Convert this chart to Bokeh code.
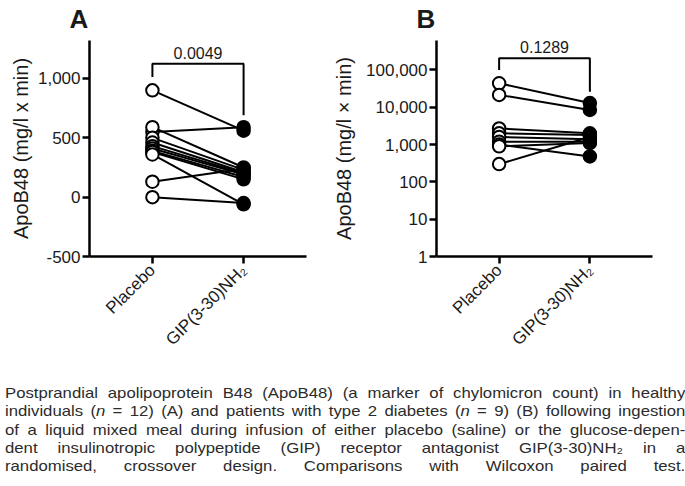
import math
from bokeh.plotting import figure
from bokeh.models import Range1d, FixedTicker, NumeralTickFormatter, Label, Div, ColumnDataSource
from bokeh.layouts import row, column
from bokeh.embed import file_html
from bokeh.resources import INLINE

# ---------------- data ----------------
categories = ["Placebo", "GIP(3-30)NH\u2082"]
healthy_placebo = [900, 550, 590, 500, 460, 430, 410, 390, 380, 360, 130, 0]
healthy_gip = [560, 590, 250, 230, 210, 200, 190, 170, 150, -60, 240, -50]
t2d_placebo = [44000, 21500, 2700, 2000, 1600, 1200, 1000, 900, 300]
t2d_gip = [13000, 8500, 2000, 1800, 1400, 1200, 480, 1100, 1600]
ticks_A = [-500, 0, 500, 1000]
ticks_B = [1, 10, 100, 1000, 10000, 100000]
p_value_A = "0.0049"
p_value_B = "0.1289"
bracket_A = [1012, 1124, 691]      # left end, top, right end
bracket_B = [100000, 206000, 26000]

FONT = "Liberation Sans"
INK = "#1a1a1a"
H = 374
TOP = 46
FRAME_H = 216


def panel(letter, placebo, gip, yrange, ticks, ylabel, pval, bracket, width,
          border_left, border_right, label_standoff, y_type="linear"):
    p = figure(width=width, height=H, output_backend="svg", toolbar_location=None,
               x_range=Range1d(-0.69, 1.69), y_range=yrange, y_axis_type=y_type,
               min_border_left=border_left, min_border_right=border_right,
               min_border_top=TOP, min_border_bottom=H - TOP - FRAME_H)
    p.outline_line_color = None
    p.grid.visible = False

    x0 = [categories.index(categories[0])] * len(placebo)
    x1 = [categories.index(categories[1])] * len(gip)
    src = ColumnDataSource(dict(x0=x0, x1=x1, y0=placebo, y1=gip))
    p.segment("x0", "y0", "x1", "y1", source=src, line_color="black", line_width=2)
    p.scatter("x0", "y0", source=src, size=12.5, fill_color="white", line_color="black", line_width=2)
    p.scatter("x1", "y1", source=src, size=12.5, fill_color="black", line_color="black", line_width=2)

    # significance bracket
    p.line([0, 0, 1, 1], [bracket[0], bracket[1], bracket[1], bracket[2]],
           line_color="black", line_width=2)
    p.add_layout(Label(x=0.5, y=bracket[1], text=pval, text_align="center", text_baseline="bottom",
                       y_offset=5, text_font=FONT, text_font_size="16px", text_color=INK))

    # axes
    for ax in (p.xaxis[0], p.yaxis[0]):
        ax.axis_line_width = 2.5
        ax.axis_line_color = "black"
        ax.major_tick_line_width = 2.5
        ax.major_tick_line_color = "black"
        ax.major_tick_in = 0
        ax.major_tick_out = 7
        ax.minor_tick_line_color = None
        ax.major_label_text_font = FONT
        ax.major_label_text_color = INK
    p.yaxis.ticker = FixedTicker(ticks=ticks)
    p.yaxis.formatter = NumeralTickFormatter(format="0,0")
    p.yaxis.major_label_text_font_size = "17px"
    p.yaxis.major_label_standoff = 2
    p.yaxis.axis_label = ylabel
    p.yaxis.axis_label_text_font = FONT
    p.yaxis.axis_label_text_font_size = "20px"
    p.yaxis.axis_label_text_font_style = "normal"
    p.yaxis.axis_label_text_color = INK
    p.yaxis.axis_label_standoff = label_standoff

    p.xaxis.ticker = FixedTicker(ticks=[0, 1])
    p.xaxis.major_label_overrides = {i: c for i, c in enumerate(categories)}
    p.xaxis.major_label_orientation = math.pi / 4
    p.xaxis.major_label_text_font_size = "17px"
    p.xaxis.major_label_standoff = 4

    # panel letter as the title
    p.title.text = letter
    p.title.text_font = FONT
    p.title.text_font_size = "26px"
    p.title.text_font_style = "bold"
    p.title.text_color = INK
    p.title.align = "left"
    p.title.offset = -20
    p.title.standoff = 14
    return p


pA = panel("A", healthy_placebo, healthy_gip, Range1d(-500, 1320), ticks_A,
           "ApoB48 (mg/l x min)", p_value_A, bracket_A, 330, 89, 24, 3)
pB = panel("B", t2d_placebo, t2d_gip, Range1d(1, 10 ** 5.79), ticks_B,
           "ApoB48 (mg/l \u00d7 min)", p_value_B, bracket_B, 347, 106, 25, 8, y_type="log")

caption_lines = [
    "Postprandial apolipoprotein B48 (ApoB48) (a marker of chylomicron count) in healthy",
    "individuals (<i>n</i> = 12) (A) and patients with type 2 diabetes (<i>n</i> = 9) (B) following ingestion",
    "of a liquid mixed meal during infusion of either placebo (saline) or the glucose-depen-",
    "dent insulinotropic polypeptide (GIP) receptor antagonist GIP(3-30)NH\u2082 in a",
    "randomised, crossover design. Comparisons with Wilcoxon paired test.",
]
line_style = "text-align:justify;text-align-last:justify;line-height:18.35px;"
html = ("<div style=\"font-family:'Liberation Sans',Arial,sans-serif;font-size:14.8px;color:#2b2b2b;"
        "margin-top:11px;margin-left:0px;width:602px;transform:scale(1.13,1);transform-origin:0 0;\">"
        + "".join(f"<div style=\"{line_style}\">{l}</div>" for l in caption_lines)
        + "</div>")
caption = Div(text=html, width=685, height=112)

layout = column(row(pA, pB, styles={"margin-top": "-6px"}), caption)
open("out.html", "w").write(file_html(layout, INLINE))
